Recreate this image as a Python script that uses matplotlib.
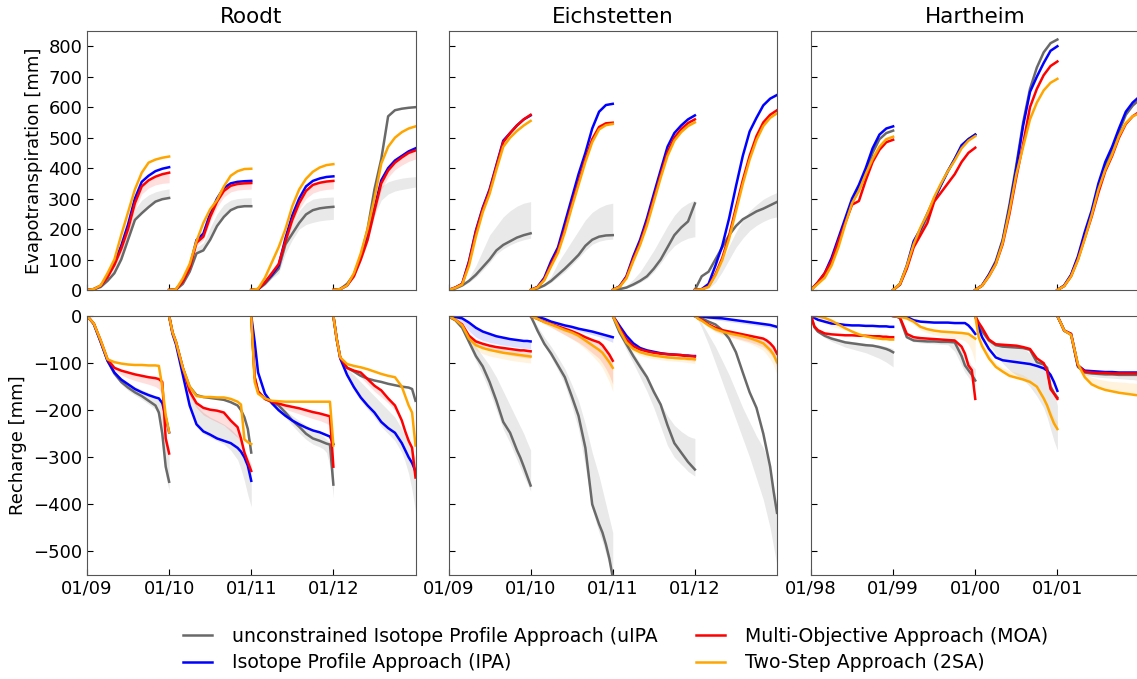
import numpy as np
import matplotlib.pyplot as plt
from matplotlib.lines import Line2D

et_months = np.arange(13)
rc_months = np.array([0, 0.5, 1, 2, 3, 4, 5, 6, 7, 8, 9, 10, 10.5, 11, 11.5, 12])

sites = ['Roodt', 'Eichstetten', 'Hartheim']
first_years = [2009, 2009, 1998]
method_labels = ['unconstrained Isotope Profile Approach (uIPA',
                 'Isotope Profile Approach (IPA)',
                 'Multi-Objective Approach (MOA)',
                 'Two-Step Approach (2SA)']
method_colors = ['dimgray', 'blue', 'red', 'orange']

# ---------------- cumulative evapotranspiration [mm], one list per year ----------------
roodt_et_upia = [[0, 2, 10, 30, 55, 100, 165, 230, 252, 272, 290, 298, 302],
                 [0, 1, 20, 60, 120, 130, 165, 210, 240, 262, 272, 275, 275],
                 [0, 2, 20, 45, 70, 150, 185, 220, 248, 262, 268, 271, 273],
                 [0, 3, 20, 50, 110, 200, 330, 430, 570, 590, 595, 598, 600]]
roodt_et_ipa = [[0, 3, 14, 45, 90, 145, 215, 300, 355, 375, 390, 398, 403],
                [0, 2, 30, 75, 164, 185, 251, 300, 335, 350, 355, 357, 358],
                [0, 3, 25, 50, 80, 170, 245, 300, 340, 358, 366, 371, 373],
                [0, 3, 15, 50, 110, 175, 270, 360, 400, 425, 440, 455, 465]]
roodt_et_moa = [[0, 3, 14, 42, 82, 135, 200, 285, 340, 360, 372, 380, 385],
                [0, 2, 28, 72, 155, 175, 240, 290, 325, 342, 348, 350, 351],
                [0, 3, 25, 55, 85, 160, 230, 285, 325, 345, 352, 356, 358],
                [0, 3, 15, 45, 100, 165, 260, 350, 392, 418, 435, 450, 458]]
roodt_et_2sa = [[0, 3, 15, 55, 100, 180, 255, 330, 385, 418, 428, 434, 438],
                [0, 2, 38, 85, 160, 220, 265, 295, 340, 375, 390, 397, 398],
                [0, 4, 40, 90, 140, 200, 275, 330, 365, 388, 402, 410, 413],
                [0, 3, 15, 55, 120, 200, 300, 415, 470, 500, 518, 530, 537]]
roodt_et_upia_hi = [[0, 2, 12, 36, 72, 125, 190, 265, 295, 312, 322, 328, 332],
                    [0, 1, 24, 68, 140, 155, 205, 250, 280, 295, 300, 302, 303],
                    [0, 2, 24, 52, 80, 160, 215, 260, 285, 298, 302, 304, 305],
                    [0, 4, 20, 55, 120, 200, 290, 340, 355, 362, 367, 370, 372]]
roodt_et_upia_lo = [[0, 2, 10, 30, 55, 100, 165, 230, 252, 272, 290, 298, 302],
                    [0, 1, 20, 60, 120, 130, 165, 210, 240, 262, 272, 275, 275],
                    [0, 1, 15, 38, 55, 120, 165, 200, 215, 222, 227, 230, 232],
                    [0, 2, 12, 40, 95, 160, 245, 295, 315, 325, 330, 334, 338]]
roodt_et_moa_edge = [[0, 3, 13, 38, 75, 125, 185, 265, 315, 335, 345, 350, 352],
                     [0, 2, 26, 68, 145, 165, 225, 272, 305, 322, 328, 330, 331],
                     [0, 3, 23, 50, 78, 150, 215, 265, 300, 318, 326, 330, 332],
                     [0, 3, 14, 42, 95, 155, 245, 330, 370, 395, 410, 422, 430]]

eich_et_upia = [[0, 5, 15, 30, 50, 75, 100, 130, 148, 160, 172, 180, 186],
                [0, 5, 15, 30, 50, 70, 92, 115, 145, 165, 175, 179, 180],
                [0, 3, 8, 18, 30, 45, 70, 100, 140, 180, 205, 225, 284],
                [0, 45, 60, 100, 140, 180, 210, 232, 245, 258, 267, 278, 289]]
eich_et_ipa = [[0, 8, 20, 95, 195, 270, 330, 410, 490, 515, 540, 560, 573],
               [0, 10, 40, 95, 140, 220, 300, 380, 450, 530, 585, 607, 611],
               [0, 12, 45, 110, 165, 235, 315, 393, 470, 515, 540, 560, 573],
               [0, 3, 20, 80, 145, 235, 340, 440, 520, 565, 606, 628, 640]]
eich_et_moa = [[0, 8, 20, 90, 190, 265, 325, 405, 485, 515, 540, 560, 575],
               [0, 9, 35, 85, 130, 200, 280, 355, 430, 495, 535, 547, 549],
               [0, 11, 42, 102, 155, 222, 300, 378, 452, 500, 528, 548, 560],
               [0, 2, 12, 52, 105, 178, 270, 360, 440, 505, 550, 575, 590]]
eich_et_2sa = [[0, 7, 18, 80, 175, 255, 315, 395, 470, 500, 522, 540, 555],
               [0, 8, 32, 78, 122, 190, 270, 345, 420, 485, 527, 541, 545],
               [0, 10, 38, 95, 148, 212, 290, 368, 440, 490, 518, 538, 550],
               [0, 2, 10, 48, 98, 168, 258, 348, 428, 492, 538, 565, 580]]
eich_et_upia_hi = [[0, 6, 18, 40, 80, 130, 180, 210, 240, 260, 275, 285, 290],
                   [0, 6, 20, 45, 90, 125, 160, 195, 230, 255, 270, 280, 285],
                   [0, 5, 15, 35, 60, 95, 130, 170, 210, 245, 270, 285, 295],
                   [0, 3, 15, 45, 95, 145, 190, 230, 260, 280, 298, 310, 320]]
eich_et_upia_lo = [[0, 4, 12, 25, 42, 65, 90, 118, 135, 148, 158, 165, 170],
                   [0, 4, 12, 25, 42, 60, 82, 105, 130, 150, 160, 165, 167],
                   [0, 2, 6, 14, 25, 38, 60, 88, 120, 145, 160, 170, 175],
                   [0, 1, 5, 25, 60, 100, 140, 170, 195, 212, 225, 235, 240]]

hart_et_upia = [[0, 22, 50, 98, 155, 225, 285, 330, 385, 450, 495, 515, 523],
                [0, 18, 75, 150, 195, 240, 295, 345, 390, 430, 470, 495, 510],
                [0, 15, 50, 95, 165, 280, 410, 550, 660, 730, 780, 810, 822],
                [0, 14, 48, 105, 180, 250, 340, 410, 460, 520, 575, 605, 625]]
hart_et_ipa = [[0, 25, 55, 105, 170, 235, 300, 345, 400, 465, 510, 530, 537],
               [0, 20, 80, 160, 200, 250, 300, 345, 390, 430, 475, 495, 510],
               [0, 15, 50, 90, 160, 270, 400, 540, 650, 700, 745, 785, 800],
               [0, 15, 50, 110, 190, 260, 350, 420, 470, 530, 585, 615, 635]]
hart_et_moa = [[0, 25, 55, 95, 160, 220, 280, 292, 360, 420, 460, 485, 493],
               [0, 18, 70, 140, 180, 220, 290, 320, 350, 380, 420, 450, 467],
               [0, 14, 45, 85, 150, 250, 370, 480, 600, 660, 705, 735, 750],
               [0, 13, 45, 100, 170, 240, 320, 390, 440, 500, 545, 570, 585]]
hart_et_2sa = [[0, 20, 40, 80, 140, 215, 285, 325, 380, 430, 470, 495, 503],
               [0, 20, 78, 150, 205, 250, 305, 350, 390, 425, 465, 490, 505],
               [0, 14, 45, 85, 155, 260, 380, 470, 560, 615, 655, 680, 693],
               [0, 13, 45, 98, 168, 245, 330, 395, 445, 505, 548, 570, 580]]

# ---------------- cumulative recharge [mm], one list per year ----------------
roodt_rc_upia = [[0, -8, -17, -55, -95, -122, -140, -152, -162, -170, -180, -190, -205, -250, -320, -352],
                 [0, -35, -55, -110, -150, -168, -172, -174, -176, -178, -183, -190, -200, -215, -240, -290],
                 [0, -130, -160, -176, -182, -190, -205, -222, -235, -250, -260, -265, -268, -271, -273, -358],
                 [0, -50, -88, -110, -118, -127, -133, -137, -140, -144, -147, -150, -151, -152, -155, -180]]
roodt_rc_ipa = [[0, -8, -17, -55, -95, -120, -135, -145, -155, -162, -168, -173, -175, -185, -215, -247],
                [0, -38, -60, -125, -190, -230, -245, -252, -260, -265, -270, -280, -288, -300, -318, -350],
                [0, -55, -120, -165, -185, -200, -212, -222, -230, -237, -243, -247, -250, -253, -256, -272],
                [0, -50, -90, -125, -151, -173, -190, -205, -225, -238, -248, -270, -285, -300, -312, -330]]
roodt_rc_moa = [[0, -8, -16, -52, -92, -110, -116, -120, -124, -127, -130, -132, -134, -140, -260, -292],
                [0, -35, -55, -110, -160, -185, -195, -199, -201, -205, -222, -236, -260, -290, -310, -329],
                [0, -130, -160, -176, -182, -186, -190, -193, -196, -200, -204, -207, -209, -211, -213, -320],
                [0, -50, -88, -110, -116, -120, -134, -148, -158, -175, -190, -222, -245, -265, -280, -343]]
roodt_rc_2sa = [[0, -8, -16, -52, -92, -98, -101, -103, -104, -104, -105, -105, -106, -150, -210, -247],
                [0, -35, -55, -110, -150, -170, -172, -172, -173, -173, -176, -182, -188, -262, -268, -272],
                [0, -140, -165, -175, -180, -181, -182, -182, -182, -182, -182, -182, -182, -182, -182, -275],
                [0, -50, -88, -102, -106, -109, -113, -118, -123, -127, -130, -150, -170, -190, -205, -275]]
roodt_rc_upia_hi = [[0, -8, -16, -54, -94, -118, -132, -142, -150, -157, -163, -170, -178, -200, -260, -295],
                    [0, -35, -55, -110, -160, -190, -205, -215, -222, -230, -240, -255, -265, -285, -310, -330],
                    [0, -125, -158, -175, -182, -190, -200, -212, -222, -232, -242, -250, -255, -262, -268, -330],
                    [0, -50, -88, -112, -125, -140, -155, -170, -185, -200, -215, -240, -255, -270, -285, -300]]
roodt_rc_upia_lo = [[0, -8, -17, -56, -97, -126, -145, -158, -168, -177, -187, -198, -215, -270, -340, -370],
                    [0, -38, -62, -128, -195, -235, -250, -258, -265, -272, -285, -305, -325, -350, -380, -405],
                    [0, -135, -162, -178, -188, -200, -215, -232, -248, -262, -272, -278, -282, -290, -320, -385],
                    [0, -50, -92, -128, -158, -180, -198, -215, -235, -250, -265, -290, -310, -335, -370, -415]]
roodt_rc_moa_edge = [[0, -8, -16, -53, -93, -115, -125, -132, -137, -141, -145, -150, -155, -165, -250, -280],
                     [0, -36, -57, -115, -170, -195, -210, -218, -225, -232, -245, -258, -270, -285, -300, -315],
                     [0, -130, -160, -178, -186, -192, -198, -203, -208, -213, -218, -222, -225, -228, -232, -310],
                     [0, -50, -88, -112, -120, -130, -145, -160, -172, -185, -200, -225, -245, -262, -275, -320]]

eich_rc_upia = [[0, -5, -9, -25, -55, -85, -107, -140, -180, -225, -248, -285, -301, -320, -340, -360],
                [0, -15, -31, -59, -80, -105, -130, -170, -212, -280, -400, -442, -460, -485, -515, -555],
                [0, -18, -35, -60, -85, -108, -130, -161, -188, -232, -270, -290, -300, -310, -318, -326],
                [0, -2, -5, -12, -18, -30, -48, -77, -120, -162, -195, -250, -285, -320, -372, -418]]
eich_rc_ipa = [[0, -1, -2, -5, -14, -25, -33, -38, -43, -46, -49, -51, -52, -53, -53, -54],
               [0, -1, -2, -6, -12, -16, -20, -23, -27, -30, -33, -37, -39, -41, -43, -45],
               [0, -10, -21, -42, -58, -68, -73, -76, -79, -81, -82, -83, -84, -84, -85, -85],
               [0, -1, -1, -3, -4, -5, -7, -9, -11, -13, -15, -17, -18, -19, -21, -23]]
eich_rc_moa = [[0, -4, -8, -18, -42, -54, -59, -63, -66, -68, -70, -72, -73, -73, -74, -75],
               [0, -3, -6, -12, -17, -22, -27, -32, -38, -45, -51, -56, -62, -72, -82, -95],
               [0, -12, -26, -50, -64, -71, -75, -78, -80, -81, -82, -83, -84, -85, -85, -86],
               [0, -5, -8, -18, -25, -30, -33, -36, -39, -42, -45, -48, -52, -58, -66, -80]]
eich_rc_2sa = [[0, -4, -8, -20, -48, -62, -68, -72, -75, -78, -80, -82, -83, -84, -85, -86],
               [0, -3, -6, -13, -18, -24, -30, -35, -42, -52, -62, -72, -78, -88, -98, -110],
               [0, -14, -30, -56, -70, -77, -81, -84, -86, -88, -89, -90, -90, -91, -91, -92],
               [0, -6, -10, -20, -28, -33, -37, -40, -43, -47, -52, -58, -65, -72, -82, -98]]
eich_rc_upia_hi = [[0, -3, -7, -18, -42, -65, -85, -105, -130, -160, -190, -220, -235, -250, -268, -285],
                   [0, -10, -22, -45, -65, -88, -112, -145, -180, -230, -290, -340, -370, -400, -430, -460],
                   [0, -15, -30, -55, -78, -100, -125, -155, -185, -212, -232, -245, -250, -255, -258, -260],
                   [0, -5, -15, -40, -65, -95, -125, -160, -195, -225, -255, -280, -300, -330, -360, -400]]
eich_rc_upia_lo = [[0, -5, -10, -28, -62, -95, -125, -160, -200, -240, -270, -305, -322, -340, -355, -372],
                   [0, -15, -33, -62, -88, -115, -145, -190, -240, -320, -410, -460, -480, -505, -530, -560],
                   [0, -20, -40, -72, -100, -130, -160, -195, -235, -275, -300, -315, -322, -330, -335, -340],
                   [0, -10, -25, -60, -100, -140, -180, -220, -260, -300, -345, -390, -420, -450, -490, -530]]
eich_rc_ipa_edge = [[0, -3, -6, -14, -32, -45, -52, -56, -59, -62, -64, -66, -67, -68, -69, -70],
                    [0, -2, -4, -9, -14, -19, -24, -28, -32, -36, -40, -44, -47, -50, -53, -56],
                    [0, -11, -24, -46, -61, -70, -75, -78, -80, -82, -83, -84, -85, -86, -86, -87],
                    [0, -2, -3, -6, -8, -10, -12, -14, -16, -18, -20, -22, -23, -24, -25, -27]]
eich_rc_moa_edge = [[0, -4, -9, -22, -50, -62, -68, -73, -77, -80, -83, -86, -87, -88, -89, -90],
                    [0, -4, -8, -16, -24, -32, -40, -48, -56, -66, -78, -90, -100, -112, -126, -145],
                    [0, -13, -28, -54, -70, -78, -82, -85, -87, -89, -91, -92, -93, -94, -95, -96],
                    [0, -6, -10, -22, -32, -38, -43, -47, -51, -55, -60, -66, -72, -80, -90, -110]]
eich_rc_2sa_edge = [[0, -5, -10, -25, -58, -72, -80, -85, -88, -91, -94, -96, -97, -98, -99, -100],
                    [0, -4, -8, -17, -24, -32, -40, -48, -58, -70, -84, -100, -110, -125, -140, -160],
                    [0, -16, -34, -62, -76, -84, -88, -91, -93, -95, -96, -97, -98, -99, -100, -101],
                    [0, -7, -12, -24, -34, -40, -45, -49, -53, -58, -65, -73, -82, -92, -105, -125]]

hart_rc_upia = [[0, -24, -33, -42, -48, -52, -56, -58, -60, -62, -63, -66, -68, -70, -73, -77],
                [0, -1, -5, -45, -52, -53, -54, -54, -55, -55, -56, -85, -105, -115, -125, -137],
                [0, -20, -32, -52, -62, -65, -66, -67, -68, -72, -98, -103, -110, -150, -163, -173],
                [0, -15, -31, -40, -108, -120, -122, -123, -124, -124, -125, -125, -125, -125, -125, -125]]
hart_rc_ipa = [[0, -4, -8, -12, -16, -17, -19, -20, -20, -21, -21, -22, -22, -22, -23, -23],
               [0, -1, -1, -2, -9, -12, -13, -14, -14, -14, -15, -15, -15, -20, -28, -38],
               [0, -25, -45, -70, -88, -94, -96, -98, -100, -102, -106, -111, -116, -125, -140, -159],
               [0, -15, -31, -38, -105, -116, -117, -118, -119, -119, -120, -120, -120, -120, -120, -120]]
hart_rc_moa = [[0, -22, -30, -37, -39, -40, -41, -41, -42, -42, -43, -43, -44, -44, -45, -45],
               [0, -1, -3, -38, -45, -47, -48, -49, -50, -51, -52, -65, -80, -105, -115, -176],
               [0, -14, -25, -50, -60, -61, -62, -63, -66, -70, -90, -100, -116, -155, -165, -176],
               [0, -15, -31, -38, -105, -118, -120, -121, -121, -122, -122, -122, -122, -122, -122, -122]]
hart_rc_2sa = [[0, 0, -1, -4, -10, -18, -26, -33, -39, -43, -46, -48, -49, -49, -50, -50],
               [0, -1, -2, -5, -12, -23, -28, -31, -33, -34, -35, -36, -37, -38, -43, -48],
               [0, -45, -64, -90, -108, -118, -127, -131, -135, -140, -150, -175, -190, -210, -228, -240],
               [0, -15, -31, -40, -102, -130, -145, -152, -157, -160, -163, -165, -166, -167, -168, -169]]
hart_rc_upia_hi = [[0, -22, -30, -38, -44, -48, -52, -54, -56, -58, -60, -62, -63, -65, -67, -70],
                   [0, -1, -4, -38, -46, -48, -49, -50, -50, -51, -55, -68, -80, -95, -105, -112],
                   [0, -15, -28, -48, -58, -62, -64, -66, -68, -80, -95, -105, -120, -140, -160, -190],
                   [0, -15, -31, -40, -105, -118, -121, -122, -123, -123, -124, -124, -124, -124, -124, -124]]
hart_rc_upia_lo = [[0, -26, -36, -46, -54, -60, -66, -70, -74, -78, -84, -90, -94, -98, -103, -108],
                   [0, -2, -8, -48, -55, -57, -58, -59, -60, -61, -75, -105, -120, -130, -140, -150],
                   [0, -22, -38, -60, -80, -100, -115, -125, -135, -150, -170, -195, -215, -240, -265, -285],
                   [0, -15, -31, -40, -108, -125, -128, -130, -131, -132, -133, -134, -135, -135, -136, -136]]
hart_rc_2sa_edge = [[0, -5, -10, -16, -22, -26, -30, -33, -36, -38, -40, -42, -43, -44, -45, -46],
                    [0, -1, -2, -8, -18, -30, -36, -40, -43, -45, -47, -50, -53, -60, -75, -100],
                    [0, -35, -55, -80, -100, -110, -116, -120, -125, -135, -150, -170, -185, -200, -215, -225],
                    [0, -15, -31, -40, -103, -122, -130, -134, -137, -139, -140, -141, -142, -142, -143, -143]]

et_curves = [[roodt_et_upia, roodt_et_ipa, roodt_et_moa, roodt_et_2sa],
             [eich_et_upia, eich_et_ipa, eich_et_moa, eich_et_2sa],
             [hart_et_upia, hart_et_ipa, hart_et_moa, hart_et_2sa]]
rc_curves = [[roodt_rc_upia, roodt_rc_ipa, roodt_rc_moa, roodt_rc_2sa],
             [eich_rc_upia, eich_rc_ipa, eich_rc_moa, eich_rc_2sa],
             [hart_rc_upia, hart_rc_ipa, hart_rc_moa, hart_rc_2sa]]
et_gray = [(roodt_et_upia_lo, roodt_et_upia_hi), (eich_et_upia_lo, eich_et_upia_hi), None]
rc_gray = [(roodt_rc_upia_lo, roodt_rc_upia_hi), (eich_rc_upia_lo, eich_rc_upia_hi),
           (hart_rc_upia_lo, hart_rc_upia_hi)]
et_edges = [[('red', roodt_et_moa, roodt_et_moa_edge)], [], []]
rc_edges = [[('red', roodt_rc_moa, roodt_rc_moa_edge)],
            [('blue', eich_rc_ipa, eich_rc_ipa_edge), ('red', eich_rc_moa, eich_rc_moa_edge),
             ('orange', eich_rc_2sa, eich_rc_2sa_edge)],
            [('orange', hart_rc_2sa, hart_rc_2sa_edge)]]


def draw_panel(ax, months, start, curves, gray, edges):
    for i in range(4):
        x = start + i + months / 12.0
        if gray is not None:
            ax.fill_between(x, gray[0][i], gray[1][i], color='#c8c8c8', alpha=0.4, lw=0)
        for col, main, edge in edges:
            ax.fill_between(x, main[i], edge[i], color=col, alpha=0.13, lw=0)
        for col, vals in zip(method_colors, curves):
            ax.plot(x, vals[i], color=col, lw=1.8)


fig = plt.figure(figsize=(11.37, 6.79), dpi=100)
W, H = 1137.0, 679.0
lefts = [87, 448.5, 811]
width = 328.5
rows = [(31, 290), (316, 575)]

for j, site in enumerate(sites):
    start = first_years[j]
    for r, (top, bot) in enumerate(rows):
        ax = fig.add_axes([lefts[j] / W, 1 - bot / H, width / W, (bot - top) / H])
        if r == 0:
            draw_panel(ax, et_months, start, et_curves[j], et_gray[j], et_edges[j])
            ax.set_ylim(0, 850)
            ax.set_yticks(np.arange(0, 801, 100))
            ax.set_title(site, fontsize=15.5)
            ax.set_xticklabels([])
        else:
            draw_panel(ax, rc_months, start, rc_curves[j], rc_gray[j], rc_edges[j])
            ax.set_ylim(-550, 0)
            ax.set_yticks(np.arange(-500, 1, 100))
        ax.set_xlim(start, start + 4)
        years = start + np.arange(4)
        ax.set_xticks(years)
        if r == 1:
            ax.set_xticklabels(['01/%02d' % (y % 100) for y in years])
        if j > 0:
            ax.set_yticklabels([])
        else:
            ax.set_ylabel('Evapotranspiration [mm]' if r == 0 else 'Recharge [mm]', fontsize=13)
        ax.tick_params(direction='in', length=4, labelsize=13, top=False, right=False)
        for s in ax.spines.values():
            s.set_color('#555555')

handles = [Line2D([], [], color=c, lw=1.8) for c in method_colors]
fig.legend(handles, method_labels, loc='center',
           bbox_to_anchor=(615.5 / W, 1 - 649.5 / H), ncol=2, frameon=False,
           fontsize=13.6, handlelength=1.55, handletextpad=1.05, columnspacing=2.05,
           labelspacing=0.42)

fig.savefig('out.png', dpi=100)
